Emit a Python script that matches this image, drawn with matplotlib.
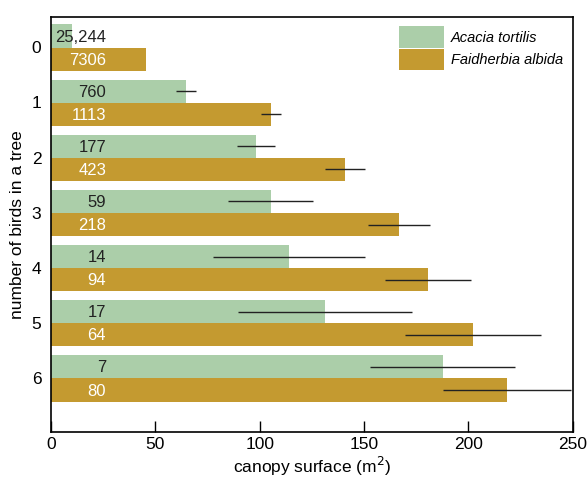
import numpy as np
import matplotlib.pyplot as plt

plt.rcParams['font.family'] = ['Liberation Sans', 'DejaVu Sans']

birds = [0, 1, 2, 3, 4, 5, 6]
acacia_mean = [10, 64.7, 98.2, 105.2, 114, 131.3, 187.6]
acacia_err = [0, 4.7, 9.3, 20.4, 36.2, 41.7, 34.6]
acacia_n = ['25,244', '760', '177', '59', '14', '17', '7']
faid_mean = [45.5, 105.4, 141, 166.8, 180.7, 202.2, 218.3]
faid_err = [0, 4.8, 9.6, 14.7, 20.7, 32.5, 30.7]
faid_n = ['7306', '1113', '423', '218', '94', '64', '80']

green = '#abcea9'
gold = '#c49a30'

fig = plt.figure(figsize=(5.88, 4.84), dpi=100)
ax = fig.add_axes([0.087, 0.107, 0.887, 0.858])

y = np.array(birds)
h = 0.42
ya = y - 0.205
yf = y + 0.215

ax.barh(ya, acacia_mean, height=h, color=green, label='Acacia tortilis')
ax.barh(yf, faid_mean, height=h, color=gold, label='Faidherbia albida')

# error bars (row 0 has none)
ax.errorbar(acacia_mean[1:], ya[1:], xerr=acacia_err[1:], fmt='none',
            ecolor='#222222', elinewidth=1, capsize=0)
ax.errorbar(faid_mean[1:], yf[1:], xerr=faid_err[1:], fmt='none',
            ecolor='#222222', elinewidth=1, capsize=0)

for yy, t in zip(ya, acacia_n):
    ax.text(26.3, yy + 0.02, t, ha='right', va='center', fontsize=12, color='#222222')
for yy, t in zip(yf, faid_n):
    ax.text(26.3, yy + 0.02, t, ha='right', va='center', fontsize=12, color='white')

ax.set_xlim(0, 250)
ax.set_ylim(6.98, -0.55)
ax.set_yticks(birds)
ax.set_xticks([0, 50, 100, 150, 200, 250])
ax.tick_params(axis='y', length=0, labelsize=12.5, pad=7)
ax.tick_params(axis='x', direction='in', length=8, width=1, labelsize=12.5)
for s in ax.spines.values():
    s.set_linewidth(1.2)

ax.set_xlabel('canopy surface (m$^2$)', fontsize=12.5, labelpad=2)
ax.set_ylabel('number of birds in a tree', fontsize=12.5, labelpad=5)

ax.legend(loc='upper right', frameon=False,
          prop={'style': 'italic', 'size': 10.5},
          handlelength=3.1, handleheight=1.9, handletextpad=0.5,
          labelspacing=0.05, borderaxespad=0.25)

fig.savefig('out.png', dpi=100)
